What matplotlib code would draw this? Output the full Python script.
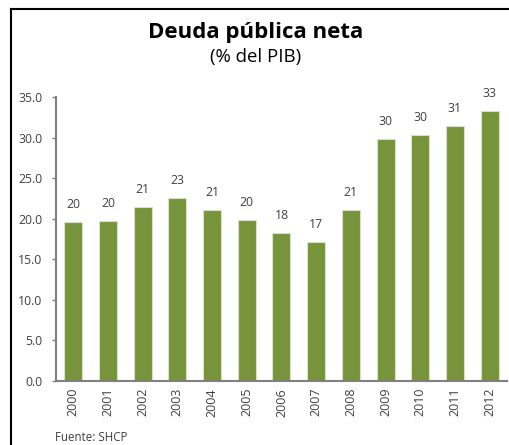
import matplotlib
matplotlib.use("Agg")
import matplotlib.pyplot as plt
from matplotlib.lines import Line2D

# Deuda publica neta (% del PIB), 2000-2012
years = ["2000", "2001", "2002", "2003", "2004", "2005", "2006",
         "2007", "2008", "2009", "2010", "2011", "2012"]
deuda = [19.6, 19.7, 21.4, 22.6, 21.1, 19.8, 18.2, 17.1, 21.1, 29.8, 30.3, 31.4, 33.3]
yticks = [0, 5, 10, 15, 20, 25, 30, 35]

plt.rcParams['font.family'] = ['Open Sans', 'DejaVu Sans']

fig = plt.figure(figsize=(5.09, 4.45), dpi=100)
ax = fig.add_axes([0.110, 0.1438, 0.886, 0.638])

x = list(range(len(years)))
ax.bar(x, deuda, width=0.52, color='#77933C', edgecolor='#D7E4BD', linewidth=0.8)
for xi, v in zip(x, deuda):
    ax.annotate(f"{round(v):.0f}", (xi, v), xytext=(0, 8), textcoords='offset points',
                ha='center', va='bottom', fontsize=8.8, color='#404040')

ax.set_xlim(-0.5, len(years) - 0.5)
ax.set_ylim(0, 35)
ax.set_yticks(yticks)
ax.set_yticklabels([f"{t:.1f}" for t in yticks], fontsize=8.8, color='#404040')
ax.set_xticks(x)
ax.set_xticklabels(years, rotation=90, fontsize=9, color='#404040')
ax.tick_params(axis='y', length=3, width=1, color='#808080', pad=7)
ax.tick_params(axis='x', length=0, pad=5)

for side in ('top', 'right'):
    ax.spines[side].set_visible(False)
for side in ('left', 'bottom'):
    ax.spines[side].set_color('#808080')
    ax.spines[side].set_linewidth(1.5)

fig.text(0.502, 0.926, "Deuda pública neta", ha='center', va='center',
         fontsize=16, fontweight='bold', color='black')
fig.text(0.502, 0.872, "(% del PIB)", ha='center', va='center',
         fontsize=13.4, color='black')
fig.text(0.108, 0.016, "Fuente: SHCP", ha='left', va='center',
         fontsize=8.3, color='#404040')

# outer frame (left and top edges only visible)
fig.add_artist(Line2D([0.021, 0.021], [0.0, 0.979], transform=fig.transFigure,
                      color='black', linewidth=1.5))
fig.add_artist(Line2D([0.021, 1.0], [0.979, 0.979], transform=fig.transFigure,
                      color='black', linewidth=1.5))

fig.savefig("out.png", dpi=100)
